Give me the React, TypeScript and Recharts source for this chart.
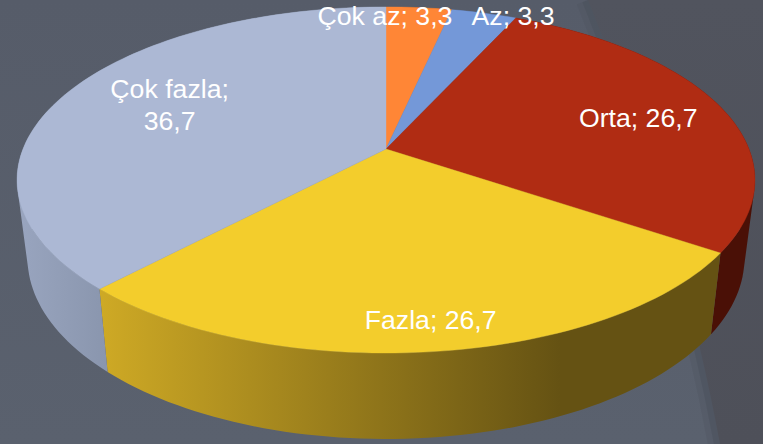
import { Pie, PieChart } from 'recharts';

const categories = ['Çok az', 'Az', 'Orta', 'Fazla', 'Çok fazla'];
const values = [3.3, 3.3, 26.7, 26.7, 36.7];

const tableData = categories.map((name, i) => ({ name, value: values[i] }));

const topColors: Record<string, string> = {
  'Çok az': '#FF8636',
  Az: '#7498D8',
  Orta: '#B02C13',
  Fazla: '#F3CD2C',
  'Çok fazla': '#ACB8D4',
};

const wallColors: Record<string, string> = {
  'Çok az': '#A85520',
  Az: '#4A6490',
  Orta: '#4A1006',
  Fazla: 'url(#wallYellow)',
  'Çok fazla': 'url(#wallGray)',
};

// label offset from the outer edge of the slice, in px
const labelNudge: Record<string, [number, number]> = {
  'Çok az': [-34, 9],
  Az: [29, 4],
  Orta: [-81, 13],
  Fazla: [-4, -30.5],
  'Çok fazla': [100, 14],
};

const WIDTH = 763;
const HEIGHT = 444;
const CX = 386;
const CY = 149;
const RADIUS = 363;

// the disc is lying down and seen in perspective
const TILT = 0.4614;
const PERSPECTIVE = 0.179;
// lower rim of the wall relative to the upper rim
const WALL_SCALE_X = 0.9715;
const WALL_SCALE_Y = 1.046;
const WALL_DROP = 76.6;

type Pt = { x: number; y: number };

function project(cx: number, cy: number, radius: number, chartAngle: number): Pt {
  const t = ((90 - chartAngle) * Math.PI) / 180;
  const x = Math.sin(t);
  const y = -Math.cos(t);
  const w = 1 - PERSPECTIVE * y;
  return { x: cx + (radius * x) / w, y: cy + (radius * TILT * y) / w };
}

function arcPoints(props: any) {
  const { cx, cy, outerRadius, startAngle, endAngle } = props;
  const steps = Math.max(2, Math.ceil(Math.abs(endAngle - startAngle) / 1.5));
  const pts: Pt[] = [];
  for (let i = 0; i <= steps; i++) {
    const a = startAngle + ((endAngle - startAngle) * i) / steps;
    pts.push(project(cx, cy, outerRadius, a));
  }
  return pts;
}

const toPath = (pts: Pt[]) =>
  'M' + pts.map((p) => `${p.x.toFixed(2)},${p.y.toFixed(2)}`).join('L') + 'Z';

function TopSlice(props: any) {
  const pts = [{ x: props.cx, y: props.cy }, ...arcPoints(props)];
  const fill = topColors[props.name];
  return <path d={toPath(pts)} fill={fill} stroke={fill} strokeWidth={0.4} />;
}

// the wall is a run of small quads, so the straight silhouette at the sides gets filled too
function WallSlice(props: any) {
  const { cx, cy } = props;
  const top = arcPoints(props);
  const bottom = top.map((p) => ({
    x: cx + WALL_SCALE_X * (p.x - cx),
    y: cy + WALL_DROP + WALL_SCALE_Y * (p.y - cy),
  }));
  let d = '';
  for (let i = 0; i < top.length - 1; i++) {
    const quad = [top[i], top[i + 1], bottom[i + 1], bottom[i]];
    let area = 0;
    quad.forEach((p, j) => {
      const q = quad[(j + 1) % 4];
      area += p.x * q.y - q.x * p.y;
    });
    d += toPath(area < 0 ? quad.reverse() : quad);
  }
  return <path d={d} fill={wallColors[props.name]} />;
}

function SliceLabel(props: any) {
  const { cx, cy, outerRadius, midAngle, name, value } = props;
  const p = project(cx, cy, outerRadius, midAngle);
  const [dx, dy] = labelNudge[name];
  const text = String(value).replace('.', ',');
  const x = p.x + dx;
  const y = p.y + dy;
  const common = {
    fill: '#FFFFFF',
    fontFamily: 'Liberation Sans, Arial, sans-serif',
    fontSize: 26.67,
    textAnchor: 'middle' as const,
  };
  if (name === 'Çok fazla') {
    return (
      <text {...common} x={x} y={y}>
        <tspan x={x} dy={-7}>{name};</tspan>
        <tspan x={x} dy={32}>{text}</tspan>
      </text>
    );
  }
  return (
    <text {...common} x={x} y={y + 8}>
      {name}; {text}
    </text>
  );
}

const SWOOSH = 'M588,0 C640,130 690,280 720,444';

function Backdrop() {
  return (
    <svg width={WIDTH} height={HEIGHT} style={{ position: 'absolute', left: 0, top: 0 }}>
      <defs>
        <linearGradient id="bgBase" x1="0" y1="0" x2="0" y2="1">
          <stop offset="0%" stopColor="#565C69" />
          <stop offset="100%" stopColor="#5A616E" />
        </linearGradient>
        <linearGradient id="bgDark" x1="0" y1="0" x2="0" y2="1">
          <stop offset="0%" stopColor="#51545E" />
          <stop offset="100%" stopColor="#4E5059" />
        </linearGradient>
      </defs>
      <rect width={WIDTH} height={HEIGHT} fill="url(#bgBase)" />
      <path d={SWOOSH} fill="none" stroke="#4A505C" strokeWidth={24} strokeOpacity={0.25} />
      <path d={SWOOSH} fill="none" stroke="#4A505C" strokeWidth={12} strokeOpacity={0.45} />
      <path d={`${SWOOSH} L763,444 L763,0 Z`} fill="url(#bgDark)" />
    </svg>
  );
}

export default function App() {
  return (
    <div
      style={{
        position: 'fixed',
        left: 0,
        top: 0,
        width: WIDTH,
        height: HEIGHT,
        overflow: 'hidden',
      }}
    >
      <Backdrop />
      <PieChart width={WIDTH} height={HEIGHT} margin={{ top: 0, right: 0, bottom: 0, left: 0 }}>
        <defs>
          <linearGradient id="wallYellow" gradientUnits="userSpaceOnUse" x1={97} y1={0} x2={560} y2={0}>
            <stop offset="0%" stopColor="#CFAA25" />
            <stop offset="100%" stopColor="#655213" />
          </linearGradient>
          <linearGradient id="wallGray" gradientUnits="userSpaceOnUse" x1={17} y1={0} x2={105} y2={0}>
            <stop offset="0%" stopColor="#99A5BF" />
            <stop offset="100%" stopColor="#8A96AE" />
          </linearGradient>
        </defs>
        <Pie
          data={tableData}
          dataKey="value"
          nameKey="name"
          cx={CX}
          cy={CY}
          outerRadius={RADIUS}
          startAngle={90}
          endAngle={-270}
          stroke="none"
          shape={WallSlice}
          isAnimationActive={false}
        />
        <Pie
          data={tableData}
          dataKey="value"
          nameKey="name"
          cx={CX}
          cy={CY}
          outerRadius={RADIUS}
          startAngle={90}
          endAngle={-270}
          stroke="none"
          shape={TopSlice}
          label={SliceLabel}
          labelLine={false}
          isAnimationActive={false}
        />
      </PieChart>
    </div>
  );
}
